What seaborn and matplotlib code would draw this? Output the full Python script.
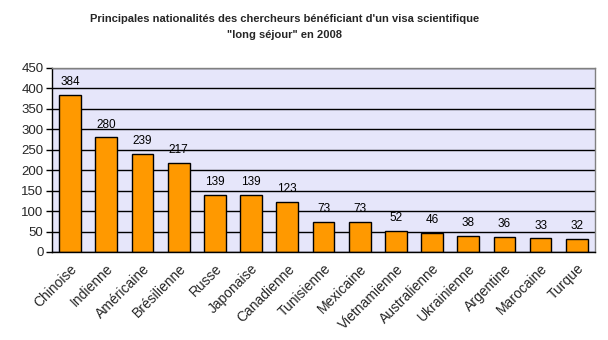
import matplotlib
matplotlib.use("Agg")
import matplotlib.pyplot as plt
import seaborn as sns
import pandas as pd

nationalites = ["Chinoise", "Indienne", "Américaine", "Brésilienne", "Russe",
                "Japonaise", "Canadienne", "Tunisienne", "Mexicaine", "Vietnamienne",
                "Australienne", "Ukrainienne", "Argentine", "Marocaine", "Turque"]
chercheurs = [384, 280, 239, 217, 139, 139, 123, 73, 73, 52, 46, 38, 36, 33, 32]
y_ticks = [0, 50, 100, 150, 200, 250, 300, 350, 400, 450]

titre = ("Principales nationalités des chercheurs bénéficiant d'un visa scientifique\n"
         "\"long séjour\" en 2008")

sns.set_theme(style="white")
plt.rcParams["font.family"] = ["Liberation Sans", "DejaVu Sans"]

df = pd.DataFrame({"nat": nationalites, "n": chercheurs})

fig = plt.figure(figsize=(6.08, 3.4), dpi=100)
fig.patch.set_facecolor("white")
ax = fig.add_axes([0.0855, 0.259, 0.893, 0.541])
ax.set_facecolor("#E6E6FA")

ax.set_axisbelow(True)
ax.yaxis.grid(True, color="black", linewidth=1.0)
sns.barplot(data=df, x="nat", y="n", color="#FF9900", width=0.6,
            edgecolor="black", linewidth=1.0, saturation=1, ax=ax, zorder=2)

ax.set_ylim(0, 450)
ax.set_xlim(-0.5, len(nationalites) - 0.5)
ax.set_yticks(y_ticks)
ax.set_yticklabels([str(v) for v in y_ticks], fontsize=9.5)
ax.set_xlabel("")
ax.set_ylabel("")

# ticks placed between categories
ax.set_xticks([i - 0.5 for i in range(len(nationalites) + 1)], minor=False)
ax.set_xticklabels([])
ax.set_xticks(range(len(nationalites)), minor=True)
ax.set_xticklabels(nationalites, minor=True, rotation=45, ha="right",
                   rotation_mode="anchor", fontsize=10)
ax.tick_params(axis="x", which="minor", length=0, pad=7)
ax.tick_params(axis="x", which="major", length=4, width=1, color="black", direction="out")
ax.tick_params(axis="y", length=4, width=1, color="black", direction="out", pad=2, left=True)

for side in ["top", "right"]:
    ax.spines[side].set_color("#808080")
    ax.spines[side].set_linewidth(1.0)
for side in ["left", "bottom"]:
    ax.spines[side].set_color("black")
    ax.spines[side].set_linewidth(1.0)

for i, v in enumerate(chercheurs):
    ax.text(i, v + 17, str(v), ha="center", va="bottom", fontsize=8.5, color="black")

fig.text(0.468, 0.96, titre, ha="center", va="top", fontsize=8,
         fontweight="bold", linespacing=1.75)

fig.savefig("out.png", dpi=100)
